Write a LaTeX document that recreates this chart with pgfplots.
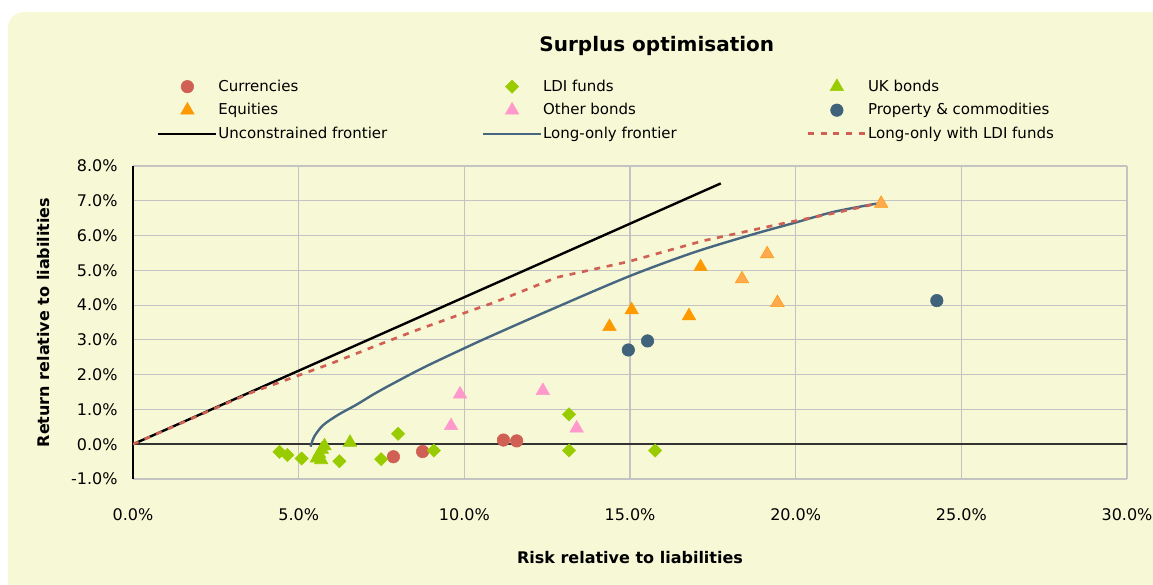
\documentclass[border=0pt]{standalone}
\usepackage{pgfplots}
\pgfplotsset{compat=1.18}
\usepackage{fontspec}
\setmainfont{DejaVu Sans}
\definecolor{bg}{RGB}{247,249,214}
\definecolor{cur}{RGB}{208,96,84}
\definecolor{ldi}{RGB}{153,204,0}
\definecolor{eq}{RGB}{255,153,0}
\definecolor{eql}{RGB}{255,170,80}
\definecolor{oth}{RGB}{255,153,204}
\definecolor{prop}{RGB}{64,98,122}
\definecolor{lof}{RGB}{70,103,127}
\definecolor{gridc}{RGB}{195,195,195}
\pgfplotsset{
  legimg/.style={legend image code/.code={\draw[mark repeat=2,mark phase=2,##1] plot coordinates {(0pt,0pt) (21.75pt,0pt) (43.5pt,0pt)};}},
}
\newcommand{\lb}[1]{\makebox[197pt][l]{#1}}
\begin{document}
\begin{tikzpicture}
\useasboundingbox (0pt,0pt) rectangle (864.75pt,438.75pt);
\begin{scope}
\clip (0pt,0pt) rectangle (864.75pt,438.75pt);
\fill[bg, rounded corners=12pt] (6pt,-30pt) rectangle (900pt,429.75pt);
\end{scope}
\begin{axis}[
  at={(99.75pt,79.5pt)}, anchor=south west,
  scale only axis, width=745.5pt, height=234.75pt,
  xmin=0, xmax=30, ymin=-1, ymax=8,
  xtick={0,5,10,15,20,25,30},
  xticklabels={0.0\%,5.0\%,10.0\%,15.0\%,20.0\%,25.0\%,30.0\%},
  ytick={-1,0,1,2,3,4,5,6,7,8},
  yticklabels={-1.0\%,0.0\%,1.0\%,2.0\%,3.0\%,4.0\%,5.0\%,6.0\%,7.0\%,8.0\%},
  major tick length=0pt,
  axis line style={draw=none},
  grid=major, grid style={gridc, line width=0.9pt},
  extra x ticks={0}, extra x tick labels={},
  extra x tick style={grid=major, grid style={black, line width=1pt}},
  extra y ticks={0}, extra y tick labels={},
  extra y tick style={grid=major, grid style={black!80, line width=1.1pt}},
  tick label style={font=\fontsize{12}{14}\selectfont},
  xticklabel style={yshift=-19pt},
  yticklabel style={xshift=-8pt},
  title={Surplus optimisation},
  title style={font=\bfseries\fontsize{15}{18}\selectfont, at={(axis description cs:0.527,1.39)}, anchor=center, yshift=-7.5pt},
  xlabel={Risk relative to liabilities},
  xlabel style={font=\bfseries\fontsize{12}{14}\selectfont, at={(axis description cs:0.5,-0.252)}, anchor=center},
  ylabel={Return relative to liabilities},
  ylabel style={font=\bfseries\fontsize{12}{14}\selectfont, at={(axis description cs:-0.0905,0.5)}, anchor=center},
  legend columns=3,
  legend cell align=left,
  legend style={draw=none, fill=none, at={(axis description cs:0.0241,1.292)}, anchor=north west,
    font=\fontsize{11.25}{13.5}\selectfont, inner sep=0pt, row sep=0pt,
    nodes={inner xsep=0.6pt, inner ysep=3.8pt}},
]
% Currencies
\addplot[only marks, mark=*, mark size=4.7pt, color=cur, legimg] coordinates {
 (7.86,-0.36) (8.74,-0.21) (11.18,0.12) (11.58,0.095)};
\addlegendentry{\lb{Currencies}}
% LDI funds
\addplot[only marks, mark=square*, mark size=3.5pt, mark options={rotate=45}, color=ldi, legimg] coordinates {
 (4.42,-0.22) (4.66,-0.31) (5.09,-0.41) (6.23,-0.49) (7.49,-0.43) (8.0,0.30) (9.08,-0.18)
 (13.16,0.86) (13.16,-0.18) (15.76,-0.18)};
\addlegendentry{\lb{LDI funds}}
% UK bonds
\addplot[only marks, mark=triangle*, mark size=5.8pt, color=ldi, legimg] coordinates {
 (5.55,-0.40) (5.62,-0.28) (5.70,-0.15) (5.78,-0.05) (5.68,-0.45) (6.55,0.05)};
\addlegendentry{\lb{UK bonds}}
% Equities
\addplot[only marks, mark=triangle*, mark size=5.8pt, color=eq, legimg] coordinates {
 (14.38,3.38) (15.05,3.86) (16.78,3.69) (17.13,5.10)};
\addlegendentry{\lb{Equities}}
% Other bonds
\addplot[only marks, mark=triangle*, mark size=5.8pt, color=oth, legimg] coordinates {
 (9.60,0.53) (9.87,1.44) (12.37,1.54) (13.39,0.46)};
\addlegendentry{\lb{Other bonds}}
% Property & commodities
\addplot[only marks, mark=*, mark size=4.7pt, color=prop, legimg] coordinates {
 (14.95,2.71) (15.53,2.97) (24.26,4.13)};
\addlegendentry{\lb{Property \& commodities}}
% Unconstrained frontier
\addplot[black, line width=1.8pt, no marks, legimg] coordinates {(0,0) (17.74,7.50)};
\addlegendentry{\lb{Unconstrained frontier}}
% Long-only frontier
\addplot[lof, line width=1.8pt, no marks, smooth, tension=0.5, legimg] coordinates {
 (5.36,-0.07) (5.47,0.22) (5.74,0.55) (6.20,0.85) (6.75,1.14) (7.25,1.43) (7.76,1.70)
 (8.76,2.20) (10.0,2.76) (10.78,3.10) (12.59,3.86) (14.95,4.82) (16.91,5.51)
 (18.62,6.01) (19.98,6.37) (21.14,6.68) (22.45,6.92)};
\addlegendentry{\lb{Long-only frontier}}
% Long-only with LDI funds
\addplot[cur, line width=2pt, dash pattern=on 4.5pt off 5pt, no marks, legimg] coordinates {
 (0,0) (3.53,1.47) (5.95,2.31) (7.25,2.80) (8.56,3.28) (9.96,3.76) (10.88,4.07)
 (12.80,4.80) (14.95,5.25) (17.21,5.85) (19.62,6.35) (21.14,6.64) (22.45,6.92)};
\addlegendentry{\lb{Long-only with LDI funds}}
% Equities (lighter)
\addplot[only marks, mark=triangle*, mark size=5.8pt, draw=eq, fill=eql, forget plot] coordinates {
 (18.38,4.75) (19.14,5.47) (19.45,4.07) (22.58,6.92)};
\end{axis}
\end{tikzpicture}
\end{document}
